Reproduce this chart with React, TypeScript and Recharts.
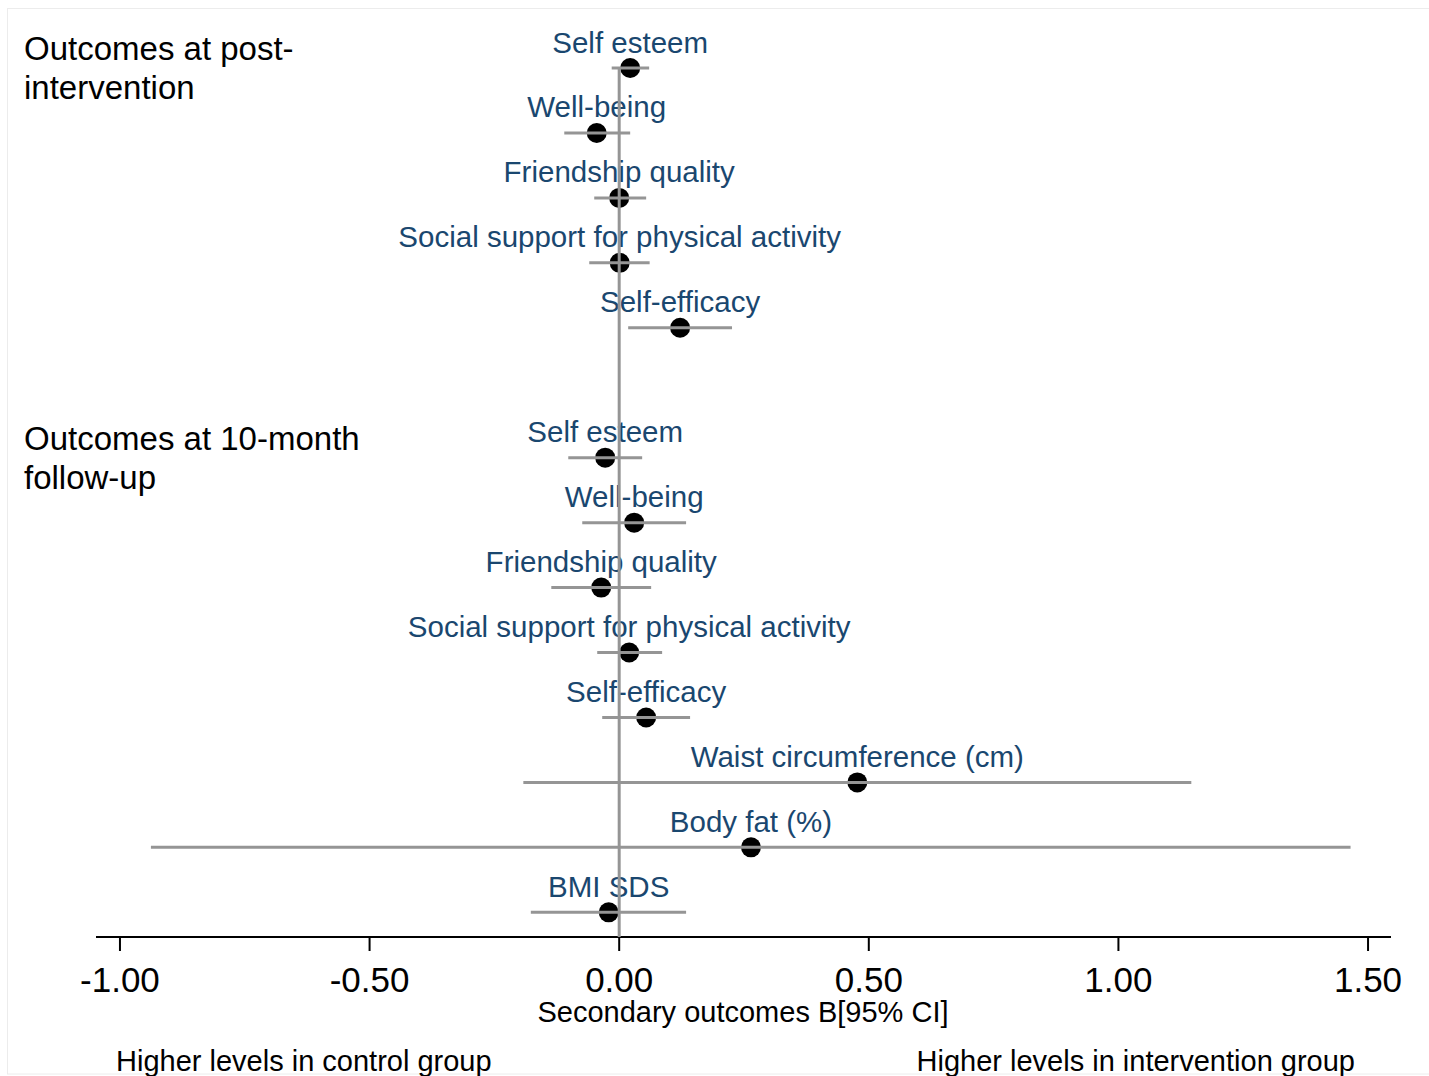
import React from 'react';
import { Scatter, ScatterChart, XAxis, YAxis } from 'recharts';

// secondary outcomes, top to bottom (row 5 is the gap between the two blocks)
const outcomes = [
  'Self esteem', 'Well-being', 'Friendship quality', 'Social support for physical activity', 'Self-efficacy',
  'Self esteem', 'Well-being', 'Friendship quality', 'Social support for physical activity', 'Self-efficacy',
  'Waist circumference (cm)', 'Body fat (%)', 'BMI SDS',
];
const rows = [0, 1, 2, 3, 4, 6, 7, 8, 9, 10, 11, 12, 13];
const estimates = [0.022, -0.045, 0.0, 0.001, 0.122, -0.028, 0.03, -0.036, 0.02, 0.054, 0.477, 0.264, -0.021];
const lower = [-0.015, -0.11, -0.05, -0.06, 0.018, -0.102, -0.074, -0.136, -0.044, -0.034, -0.192, -0.938, -0.177];
const upper = [0.06, 0.022, 0.054, 0.061, 0.226, 0.046, 0.134, 0.064, 0.086, 0.142, 1.146, 1.465, 0.134];
const xTicks = [-1, -0.5, 0, 0.5, 1, 1.5];

const FONT = '"Liberation Sans", Arial, Helvetica, sans-serif';
const GREY = '#959595';
const NAVY = '#1a476f';
const Y_MAX = 13.38;

const table = outcomes.map((name, i) => ({ name, b: estimates[i], row: rows[i] }));

// one two-point segment per CI, drawn after the dots so the grey sits on top
const ciSegments = rows.map((row, i) => [
  { b: lower[i], row },
  { b: upper[i], row },
]);

// zero line from first row down to the axis
const zeroLine = [
  { b: 0, row: 0 },
  { b: 0, row: Y_MAX },
];

const Dot = (props: any) => {
  const { cx, cy, payload } = props;
  return (
    <g>
      <text x={cx} y={cy - 15.5} textAnchor="middle" fontSize={29.5} fill={NAVY} fontFamily={FONT}>
        {payload.name}
      </text>
      <circle cx={cx} cy={cy} r={10} fill="#000" />
    </g>
  );
};

const NoShape = () => <g />;

export default function App() {
  return (
    <div style={{ position: 'absolute', left: 0, top: 0, width: 1429, height: 1076, background: '#fff' }}>
      <ScatterChart width={1429} height={1076} margin={{ top: 68, right: 38, bottom: 0, left: 96 }}>
        <XAxis
          type="number"
          dataKey="b"
          domain={[-1.048, 1.546]}
          ticks={xTicks}
          tickFormatter={(v: number) => v.toFixed(2)}
          height={139}
          tickSize={14}
          tickMargin={16}
          axisLine={{ stroke: '#000', strokeWidth: 2 }}
          tickLine={{ stroke: '#000', strokeWidth: 2 }}
          tick={{ fontSize: 35, fill: '#000', fontFamily: FONT }}
        />
        <YAxis type="number" dataKey="row" domain={[0, Y_MAX]} reversed hide />
        <Scatter data={table} shape={Dot} isAnimationActive={false} />
        {ciSegments.map((seg, i) => (
          <Scatter
            key={`ci-${i}`}
            data={seg}
            shape={NoShape}
            line={{ stroke: GREY, strokeWidth: 3 }}
            isAnimationActive={false}
          />
        ))}
        <Scatter
          data={zeroLine}
          shape={NoShape}
          line={{ stroke: GREY, strokeWidth: 3 }}
          isAnimationActive={false}
        />
      </ScatterChart>
      <svg
        width={1429}
        height={1076}
        style={{ position: 'absolute', left: 0, top: 0, pointerEvents: 'none' }}
        fontFamily={FONT}
      >
        <rect x={7.5} y={8.5} width={1440} height={1065.5} fill="none" stroke="#ececec" />
        <text x={24} y={60} fontSize={33} fill="#000">Outcomes at post-</text>
        <text x={24} y={99} fontSize={33} fill="#000">intervention</text>
        <text x={24} y={450} fontSize={33} fill="#000">Outcomes at 10-month</text>
        <text x={24} y={489} fontSize={33} fill="#000">follow-up</text>
        <text x={743} y={1022} fontSize={29} textAnchor="middle" fill="#000">Secondary outcomes B[95% CI]</text>
        <text x={116} y={1071} fontSize={29} fill="#000">Higher levels in control group</text>
        <text x={1355} y={1071} fontSize={29} textAnchor="end" fill="#000">Higher levels in intervention group</text>
      </svg>
    </div>
  );
}
